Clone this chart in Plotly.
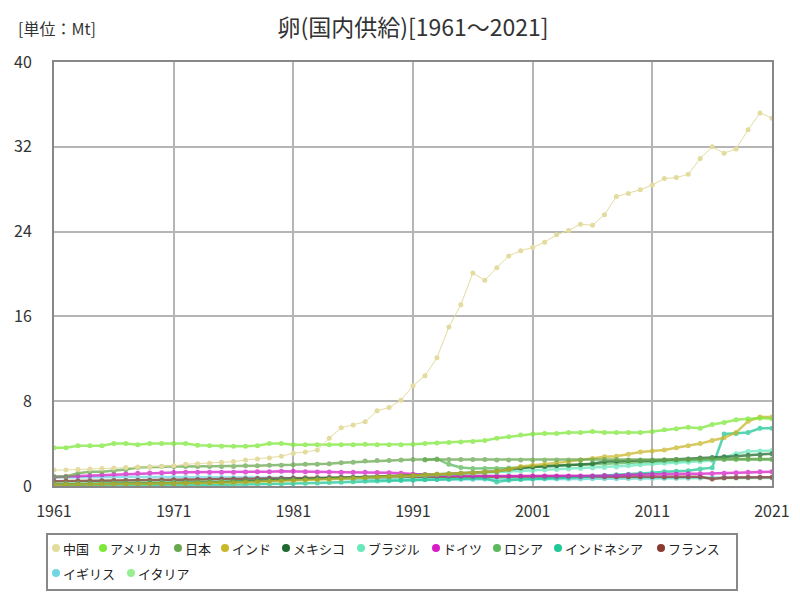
import plotly.graph_objects as go

years = list(range(1961, 2022))

china = [1.50,1.50,1.55,1.60,1.65,1.70,1.75,1.80,1.80,1.85,1.90,
         2.05,2.10,2.15,2.25,2.30,2.45,2.55,2.65,2.80,3.10,
         3.20,3.40,4.50,5.50,5.75,6.05,7.10,7.40,8.10,9.45,
         10.40,12.10,15.00,17.10,20.10,19.40,20.60,21.70,22.20,22.50,
         23.00,23.70,24.10,24.70,24.60,25.60,27.30,27.60,27.95,28.40,
         29.00,29.10,29.40,30.90,32.00,31.40,31.80,33.60,35.20,34.70]
usa = [3.60,3.60,3.80,3.80,3.80,4.00,4.00,3.90,4.00,4.00,4.00,
       4.00,3.85,3.80,3.75,3.75,3.75,3.80,4.00,4.00,3.90,
       3.90,3.90,3.90,3.90,3.90,3.95,3.90,3.90,3.90,3.95,
       4.00,4.05,4.10,4.15,4.20,4.30,4.50,4.65,4.80,4.90,
       4.95,4.95,5.05,5.05,5.15,5.05,5.05,5.05,5.05,5.15,
       5.30,5.40,5.55,5.45,5.80,6.00,6.25,6.35,6.40,6.35]
japan = [0.90,0.90,1.20,1.35,1.35,1.45,1.55,1.75,1.80,1.85,1.85,
         1.85,1.85,1.85,1.85,1.85,1.90,1.90,1.95,1.95,2.00,
         2.05,2.05,2.10,2.20,2.25,2.35,2.40,2.40,2.45,2.50,
         2.50,2.50,2.50,2.50,2.50,2.50,2.45,2.45,2.45,2.45,
         2.45,2.45,2.45,2.45,2.45,2.50,2.50,2.45,2.45,2.45,
         2.45,2.50,2.50,2.50,2.55,2.55,2.60,2.60,2.55,2.55]
india = [0.12,0.13,0.14,0.15,0.16,0.17,0.18,0.19,0.20,0.22,0.24,
         0.26,0.28,0.30,0.32,0.34,0.37,0.40,0.44,0.48,0.52,
         0.56,0.60,0.64,0.68,0.72,0.78,0.84,0.90,0.96,1.00,
         1.05,1.10,1.15,1.20,1.25,1.30,1.40,1.55,1.85,1.95,
         2.05,2.20,2.30,2.45,2.60,2.75,2.80,3.00,3.20,3.30,
         3.40,3.60,3.80,4.00,4.30,4.55,5.05,6.10,6.50,6.50]
mexico = [0.15,0.16,0.17,0.18,0.19,0.20,0.21,0.22,0.23,0.24,0.26,
          0.28,0.30,0.33,0.36,0.40,0.44,0.48,0.52,0.56,0.60,
          0.65,0.68,0.70,0.75,0.78,0.80,0.85,0.90,0.95,1.00,
          1.05,1.10,1.15,1.20,1.25,1.30,1.40,1.55,1.70,1.80,
          1.85,1.90,1.95,2.00,2.10,2.30,2.35,2.40,2.40,2.40,
          2.45,2.50,2.55,2.65,2.70,2.75,2.80,2.90,2.95,3.05]
brazil = [0.20,0.21,0.22,0.23,0.24,0.25,0.26,0.27,0.28,0.30,0.32,
          0.34,0.36,0.38,0.40,0.43,0.46,0.50,0.54,0.58,0.62,
          0.66,0.70,0.72,0.75,0.78,0.80,0.82,0.85,0.90,0.95,
          1.00,1.05,1.10,1.15,1.20,1.25,1.30,1.35,1.40,1.45,
          1.50,1.55,1.60,1.65,1.70,1.75,1.80,1.90,2.00,2.10,
          2.15,2.20,2.25,2.30,2.40,2.70,3.05,3.25,3.30,3.35]
germany = [0.85,0.90,0.95,1.00,1.05,1.10,1.15,1.20,1.22,1.25,1.28,
           1.30,1.30,1.30,1.30,1.30,1.32,1.35,1.35,1.38,1.38,
           1.35,1.33,1.32,1.30,1.30,1.30,1.28,1.25,1.20,1.10,
           1.05,1.00,0.98,0.95,0.95,0.95,0.95,0.95,0.95,0.95,
           0.95,0.95,0.95,0.95,0.95,1.00,1.00,1.05,1.08,1.10,
           1.12,1.12,1.15,1.15,1.18,1.20,1.25,1.30,1.35,1.35]
russia = [None]*31 + [2.45,2.55,2.05,1.75,1.65,1.65,1.65,1.70,1.75,1.85,
                      1.90,1.95,1.95,2.00,2.05,2.10,2.15,2.20,2.25,2.30,
                      2.35,2.35,2.40,2.45,2.50,2.50,2.50,2.50,2.55,2.50]
indonesia = [0.03,0.03,0.03,0.04,0.04,0.04,0.05,0.05,0.06,0.06,0.07,
             0.08,0.09,0.10,0.11,0.12,0.14,0.16,0.18,0.20,0.23,
             0.26,0.29,0.32,0.36,0.40,0.44,0.48,0.50,0.52,0.55,
             0.58,0.62,0.66,0.70,0.72,0.72,0.38,0.55,0.62,0.68,
             0.72,0.76,0.80,0.85,0.95,1.00,1.05,1.10,1.20,1.25,
             1.35,1.40,1.45,1.60,1.73,4.90,4.95,5.05,5.45,5.45]
france = [0.45,0.47,0.48,0.50,0.50,0.52,0.53,0.55,0.55,0.57,0.58,
          0.60,0.62,0.63,0.65,0.66,0.68,0.70,0.72,0.74,0.76,
          0.78,0.80,0.82,0.84,0.85,0.86,0.87,0.88,0.88,0.88,
          0.89,0.89,0.90,0.90,0.90,0.90,0.90,0.90,0.90,0.90,
          0.90,0.90,0.90,0.90,0.90,0.88,0.88,0.88,0.88,0.88,
          0.85,0.86,0.87,0.88,0.66,0.78,0.80,0.82,0.82,0.83]
uk = [0.80,0.82,0.83,0.84,0.85,0.85,0.86,0.86,0.86,0.86,0.86,
      0.85,0.84,0.83,0.82,0.81,0.80,0.79,0.78,0.77,0.76,
      0.74,0.72,0.70,0.68,0.67,0.66,0.62,0.60,0.60,0.61,
      0.62,0.62,0.62,0.62,0.62,0.63,0.63,0.64,0.64,0.65,
      0.66,0.66,0.67,0.67,0.68,0.68,0.69,0.70,0.71,0.72,
      0.73,0.74,0.75,0.77,0.78,0.80,0.80,0.81,0.82,0.80]
italy = [0.40,0.42,0.44,0.46,0.48,0.50,0.52,0.54,0.56,0.58,0.60,
         0.61,0.62,0.63,0.64,0.65,0.66,0.67,0.67,0.68,0.68,
         0.69,0.69,0.70,0.70,0.70,0.71,0.71,0.72,0.72,0.72,
         0.72,0.72,0.72,0.73,0.73,0.73,0.73,0.73,0.73,0.74,
         0.74,0.74,0.74,0.74,0.74,0.74,0.74,0.74,0.74,0.74,
         0.74,0.73,0.73,0.73,0.73,0.74,0.74,0.75,0.75,0.75]

names = ["中国", "アメリカ", "日本", "インド", "メキシコ", "ブラジル",
         "ドイツ", "ロシア", "インドネシア", "フランス", "イギリス", "イタリア"]
series = [china, usa, japan, india, mexico, brazil,
          germany, russia, indonesia, france, uk, italy]
colors = ["#e3dc9e", "#7ee83a", "#6aa84f", "#c9b82a", "#1f6a30", "#68e8bb",
          "#d61ec6", "#5cb85c", "#1fc896", "#8b3a32", "#72d6e2", "#98ee92"]

tick_years = [1961, 1971, 1981, 1991, 2001, 2011, 2021]
y_ticks = [0, 8, 16, 24, 32, 40]

FONT = "Noto Sans CJK JP"
W, H = 784, 584
ML, MR, MT, MB = 46, 20, 54, 106
PW, PH = W - ML - MR, H - MT - MB

def px(x):  # page x (8px body offset) -> paper
    return (x - 8 - ML) / PW

def py(y):  # page y -> paper
    return (H - MB - (y - 8)) / PH

fig = go.Figure()

for i in reversed(range(len(names))):
    w = 1 if i == 0 else 2.5
    op = 1.0 if i == 0 else 0.75
    fig.add_trace(go.Scatter(
        x=years, y=series[i], mode="lines+markers", name=names[i],
        line=dict(color=colors[i], width=w), marker=dict(color=colors[i], size=5),
        opacity=op, showlegend=False, connectgaps=False))

# manual legend (flowing, two rows, as in the reference)
legend_pos = [(56, 548), (103, 548), (178, 548), (225, 548), (286, 548), (361, 548),
              (436, 548), (497, 548), (558, 548), (661, 548), (56, 573), (131, 573)]
shapes = [dict(type="rect", xref="paper", yref="paper", x0=px(47), x1=px(737),
               y0=py(590), y1=py(534), line=dict(color="#888888", width=2),
               fillcolor="rgba(0,0,0,0)", layer="above")]
annotations = [dict(text="[単位：Mt]", xref="paper", yref="paper", x=px(16), y=py(28),
                    xanchor="left", yanchor="middle", showarrow=False,
                    font=dict(size=16, color="#333333", family=FONT))]
for i, (lx, ly) in enumerate(legend_pos):
    shapes.append(dict(type="circle", xref="paper", yref="paper",
                       xsizemode="pixel", ysizemode="pixel",
                       xanchor=px(lx), yanchor=py(ly), x0=-4, x1=4, y0=-4, y1=4,
                       fillcolor=colors[i], line=dict(width=0)))
    annotations.append(dict(text=names[i], xref="paper", yref="paper",
                            x=px(lx + 5), y=py(ly), xanchor="left", yanchor="middle",
                            showarrow=False,
                            font=dict(size=13, color="#222222", family=FONT)))

fig.update_layout(
    width=W, height=H,
    margin=dict(l=ML, r=MR, t=MT, b=MB, autoexpand=False),
    paper_bgcolor="white", plot_bgcolor="white",
    font=dict(family=FONT, color="#333333", size=13),
    title=dict(text="卵(国内供給)[1961～2021]", x=(413 - 8) / W, xanchor="center",
               y=1 - (28 - 8) / H, yanchor="middle",
               font=dict(size=23, color="#333333", family=FONT)),
    showlegend=False,
    shapes=shapes,
    annotations=annotations,
)
fig.update_xaxes(range=[1961, 2021], tickvals=tick_years, ticktext=[str(t) for t in tick_years],
                 showgrid=True, gridcolor="#b5b5b5", gridwidth=2, automargin=False,
                 showline=True, linecolor="#888888", linewidth=2, mirror=True,
                 ticks="outside", ticklen=10, tickcolor="rgba(0,0,0,0)",
                 tickfont=dict(size=16, color="#333333"), zeroline=False)
fig.update_yaxes(range=[0, 40], tickvals=y_ticks, automargin=False,
                 showgrid=True, gridcolor="#b5b5b5", gridwidth=2,
                 showline=True, linecolor="#888888", linewidth=2, mirror=True,
                 ticks="outside", ticklen=17, tickcolor="rgba(0,0,0,0)",
                 tickfont=dict(size=16, color="#333333"), zeroline=False)

fig.write_html("out.html")
